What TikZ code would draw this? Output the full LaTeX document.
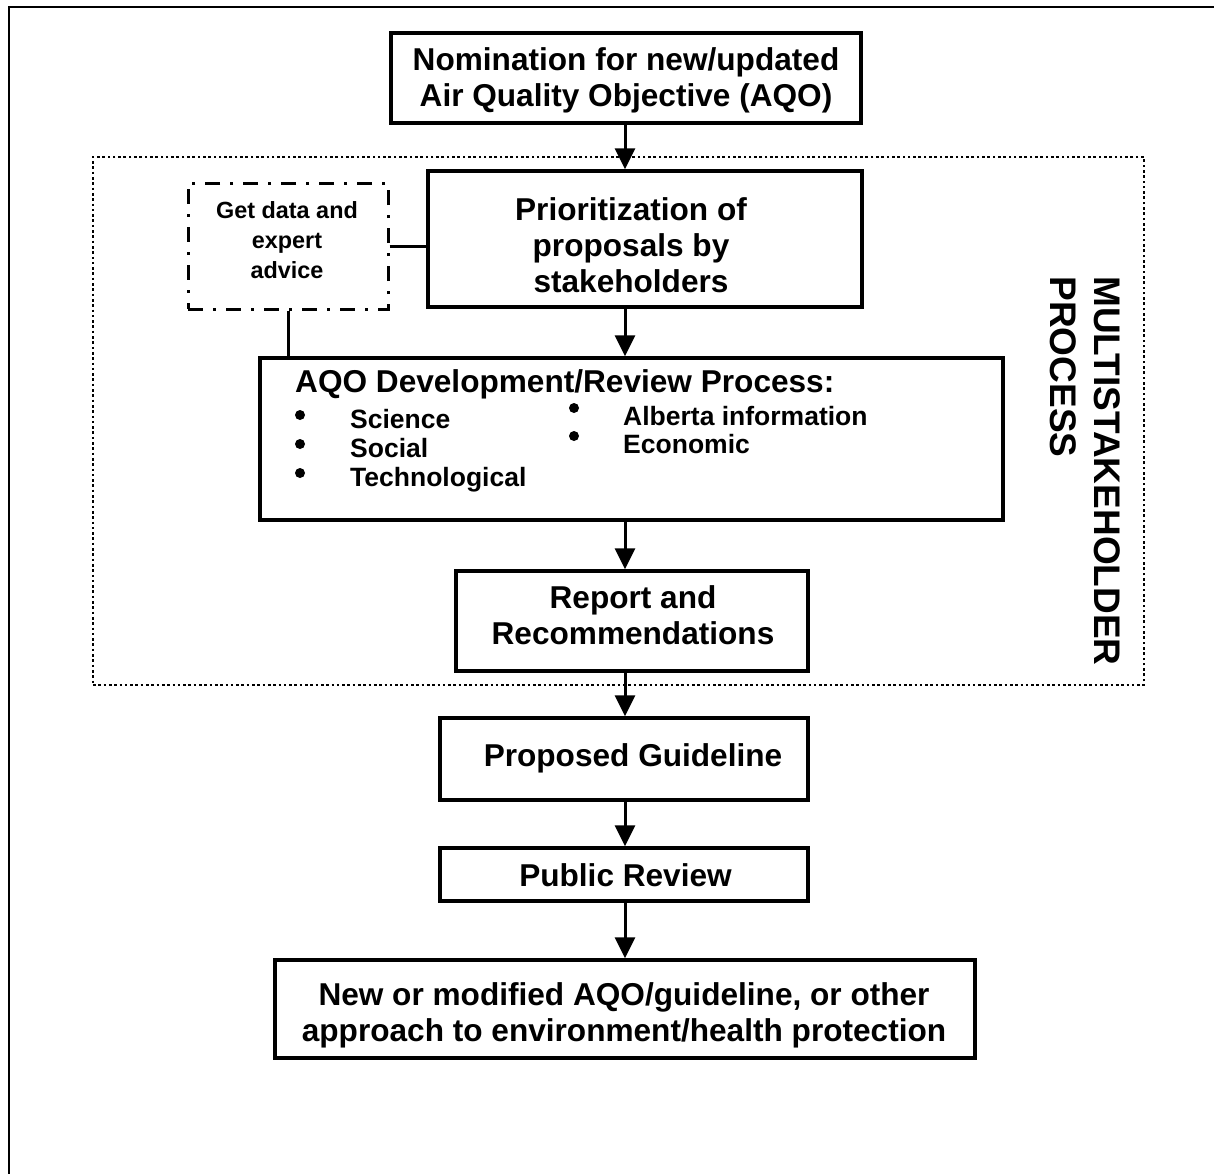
\documentclass[tikz,border=0pt]{standalone}
\usepackage{fontspec}
\setmainfont{Liberation Sans}
\usetikzlibrary{arrows.meta,calc}
\begin{document}
\begin{tikzpicture}[x=1pt,y=-1pt,
  boxst/.style={draw=black, line width=3.5pt, inner sep=0pt, fill=white},
  bigtxt/.style={font=\fontsize{31.6}{36.3}\selectfont\bfseries, align=center, inner sep=0pt},
  itemtxt/.style={font=\fontsize{26.5}{30}\selectfont\bfseries, inner sep=0pt, anchor=base west},
  titletxt/.style={font=\fontsize{31.6}{36.3}\selectfont\bfseries, inner sep=0pt, anchor=base west},
  bul/.style={circle, fill=black, inner sep=0pt, minimum size=10pt},
  smalltxt/.style={font=\fontsize{23.4}{30}\selectfont\bfseries, align=center, inner sep=0pt},
  vtxt/.style={font=\fontsize{37}{44}\selectfont\bfseries, align=left, rotate=-90, inner sep=0pt},
  flowarrow/.style={line width=3pt, -{Triangle[width=20pt,length=21pt]}},
  link/.style={line width=3pt},
  ddbox/.style={draw=black, line width=3pt, dash pattern=on 15pt off 10pt on 3pt off 10pt, inner sep=0pt},
  region/.style={draw=black, line width=2.3pt, dash pattern=on 2.6pt off 2.7pt, inner sep=0pt}
]
\useasboundingbox (0,0) rectangle (1214,1173);
\draw[line width=2.3pt] (9,7) rectangle (1240,1200);

\node[region, minimum width=1051pt, minimum height=528pt] (msp) at (618.5,421) {};
\node[vtxt] (mspt) at (1085,471) {MULTISTAKEHOLDER\\PROCESS};

\node[boxst, minimum width=470pt, minimum height=90pt] (nom) at (626,78) {};
\node[bigtxt] (nomt) at (626,80) {Nomination for new/updated\\Air Quality Objective (AQO)};

\node[boxst, minimum width=434pt, minimum height=136pt] (prio) at (645,239) {};
\node[bigtxt] (priot) at (631,245) {Prioritization of\\proposals by\\stakeholders};

\node[ddbox, minimum width=200pt, minimum height=126pt] (dd) at (288,246) {};
\node[smalltxt] (ddt) at (287,240) {Get data and\\expert\\advice};

\node[boxst, minimum width=743pt, minimum height=162pt] (aqo) at (631.5,439) {};
\node[titletxt] (aqot) at (295,392) {AQO Development/Review Process:};
\node[bul] (b1) at (300,415) {};
\node[bul] (b2) at (300,444) {};
\node[bul] (b3) at (300,473) {};
\node[bul] (b4) at (574,408) {};
\node[bul] (b5) at (574,436) {};
\node[itemtxt] (i1) at (350,428) {Science};
\node[itemtxt] (i2) at (350,457) {Social};
\node[itemtxt] (i3) at (350,486) {Technological};
\node[itemtxt] (i4) at (623,425) {Alberta information};
\node[itemtxt] (i5) at (623,453) {Economic};

\node[boxst, minimum width=352pt, minimum height=100pt] (rep) at (632,621) {};
\node[bigtxt] (rept) at (633,615) {Report and\\Recommendations};

\node[boxst, minimum width=368pt, minimum height=82pt] (prop) at (624,759) {};
\node[bigtxt] (propt) at (633,758) {Proposed Guideline};

\node[boxst, minimum width=368pt, minimum height=53pt] (pub) at (624,874.5) {};
\node[bigtxt] (pubt) at (625.5,875) {Public Review};

\node[boxst, minimum width=700pt, minimum height=98pt] (new) at (625,1009) {};
\node[bigtxt] (newt) at (624,1015) {New or modified AQO/guideline, or other\\approach to environment/health protection};

\coordinate (ax) at (625,0);
\draw[flowarrow] (nom.south -| ax) -- (prio.north -| ax);
\draw[flowarrow] (prio.south -| ax) -- (aqo.north -| ax);
\draw[flowarrow] (aqo.south -| ax) -- (rep.north -| ax);
\draw[flowarrow] (rep.south -| ax) -- (prop.north -| ax);
\draw[flowarrow] (prop.south -| ax) -- (pub.north -| ax);
\draw[flowarrow] (pub.south -| ax) -- (new.north -| ax);

\draw[link] (dd.east) -- (dd.east -| prio.west);
\draw[link] (dd.south) -- (dd.south |- aqo.north);
\end{tikzpicture}
\end{document}
